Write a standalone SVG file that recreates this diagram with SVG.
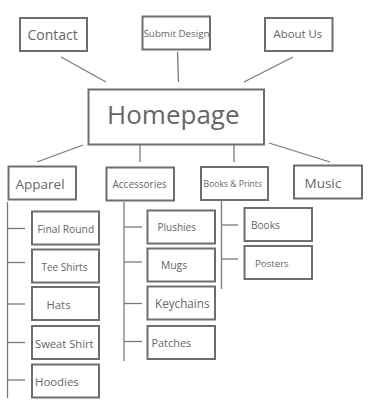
<svg xmlns="http://www.w3.org/2000/svg" width="370" height="402" viewBox="0 0 370 402">
<style>
.box{fill:#fff;stroke:#6e6e6e;stroke-width:2}
.t{font-family:"Open Sans","Noto Sans","DejaVu Sans",sans-serif;fill:#666}
.ln{stroke:#7a7a7a;stroke-width:1.3;fill:none}
</style>
<rect width="370" height="402" fill="#fff"/>
<g id="connectors">
<line class="ln" x1="61" y1="57" x2="106" y2="82"/>
<line class="ln" x1="177.5" y1="52" x2="178.5" y2="82"/>
<line class="ln" x1="293" y1="57" x2="244" y2="82"/>
<line class="ln" x1="83" y1="145" x2="37" y2="162"/>
<line class="ln" x1="140" y1="145" x2="140" y2="162"/>
<line class="ln" x1="234" y1="145" x2="234" y2="162"/>
<line class="ln" x1="269" y1="143" x2="330" y2="162"/>
<line class="ln" x1="7.5" y1="202" x2="7.5" y2="398"/>
<line class="ln" x1="7.5" y1="228.5" x2="25" y2="228.5"/>
<line class="ln" x1="7.5" y1="262.5" x2="25" y2="262.5"/>
<line class="ln" x1="7.5" y1="304" x2="25" y2="304"/>
<line class="ln" x1="7.5" y1="342.5" x2="25" y2="342.5"/>
<line class="ln" x1="7.5" y1="380" x2="25" y2="380"/>
<line class="ln" x1="124" y1="202" x2="124" y2="361"/>
<line class="ln" x1="124" y1="227" x2="142" y2="227"/>
<line class="ln" x1="124" y1="262" x2="142" y2="262"/>
<line class="ln" x1="124" y1="303.5" x2="142" y2="303.5"/>
<line class="ln" x1="124" y1="341.5" x2="142" y2="341.5"/>
<line class="ln" x1="221.5" y1="201" x2="221.5" y2="289"/>
<line class="ln" x1="221.5" y1="225" x2="238" y2="225"/>
<line class="ln" x1="221.5" y1="259" x2="238" y2="259"/>
</g>
<g id="contact"><rect class="box" x="20" y="18" width="67" height="33"/><text class="t" x="27.5" y="40" font-size="14">Contact</text></g>
<g id="submit-design"><rect class="box" x="142.5" y="16.5" width="67.5" height="33"/><text class="t" x="143.5" y="36.5" font-size="9.8">Submit Design</text></g>
<g id="about-us"><rect class="box" x="265" y="18" width="67.5" height="33"/><text class="t" x="273.5" y="37.5" font-size="11.4">About Us</text></g>
<g id="homepage"><rect class="box" x="88.5" y="89.5" width="175.5" height="55"/><text class="t" x="107" y="124" font-size="26">Homepage</text></g>
<g id="apparel"><rect class="box" x="8.5" y="166.5" width="67.5" height="33"/><text class="t" x="15.5" y="188.5" font-size="13.5">Apparel</text></g>
<g id="accessories"><rect class="box" x="106.5" y="167.5" width="67.5" height="33"/><text class="t" x="112.5" y="187.5" font-size="10">Accessories</text></g>
<g id="books-prints"><rect class="box" x="201" y="167" width="67" height="33"/><text class="t" x="203.5" y="186.5" font-size="8.6">Books &amp; Prints</text></g>
<g id="music"><rect class="box" x="294" y="165.5" width="68" height="33"/><text class="t" x="304.5" y="187.5" font-size="13.5">Music</text></g>
<g id="final-round"><rect class="box" x="32" y="211.5" width="67" height="33"/><text class="t" x="37.5" y="232.5" font-size="10.3">Final Round</text></g>
<g id="tee-shirts"><rect class="box" x="32" y="249.5" width="67" height="33"/><text class="t" x="41.5" y="270.5" font-size="10">Tee Shirts</text></g>
<g id="hats"><rect class="box" x="32" y="287" width="67" height="33"/><text class="t" x="46.5" y="309" font-size="11.3">Hats</text></g>
<g id="sweat-shirt"><rect class="box" x="32" y="326" width="67" height="33"/><text class="t" x="35" y="347.5" font-size="11.2">Sweat Shirt</text></g>
<g id="hoodies"><rect class="box" x="32" y="364.5" width="67" height="33"/><text class="t" x="35" y="386" font-size="11.4">Hoodies</text></g>
<g id="plushies"><rect class="box" x="147.5" y="210.5" width="67.5" height="33"/><text class="t" x="157.5" y="230.5" font-size="10">Plushies</text></g>
<g id="mugs"><rect class="box" x="147.5" y="248.5" width="67.5" height="33"/><text class="t" x="161" y="269" font-size="10.3">Mugs</text></g>
<g id="keychains"><rect class="box" x="147.5" y="286.5" width="67.5" height="33"/><text class="t" x="155" y="307.5" font-size="11.7">Keychains</text></g>
<g id="patches"><rect class="box" x="147.5" y="326" width="67.5" height="33"/><text class="t" x="151.5" y="346.5" font-size="10.9">Patches</text></g>
<g id="books"><rect class="box" x="244.5" y="208" width="67.5" height="33"/><text class="t" x="251" y="228.5" font-size="10.1">Books</text></g>
<g id="posters"><rect class="box" x="244.5" y="246" width="67.5" height="33"/><text class="t" x="255" y="266.5" font-size="9.7">Posters</text></g>
</svg>
